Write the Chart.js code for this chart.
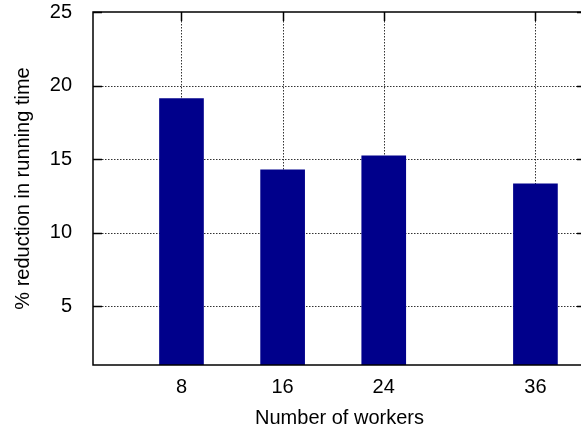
<!DOCTYPE html>
<html>
<head>
<meta charset="utf-8">
<script src="https://cdn.jsdelivr.net/npm/chart.js@4"></script>
<style>
  html, body { margin: 0; padding: 0; overflow: hidden; background: #fff; }
</style>
</head>
<body>
<canvas id="chart" width="600" height="432"></canvas>
<script>
// data
const workers = [8, 16, 24, 36];
const reduction = [19.12, 14.27, 15.22, 13.32];
const xTicks = [8, 16, 24, 36];
const yTicks = [5, 10, 15, 20, 25];

const FONT = "'Liberation Sans', Arial, Helvetica, sans-serif";

// gnuplot style frame: dotted grid, inward ticks, black border
const frame = {
  id: 'frame',
  beforeDatasetsDraw(chart) {
    const { ctx, chartArea: a, scales: { x, y } } = chart;
    ctx.save();
    ctx.strokeStyle = '#333';
    ctx.lineWidth = 1;
    ctx.setLineDash([1.5, 1.5]);
    ctx.beginPath();
    xTicks.forEach(v => {
      const px = Math.round(x.getPixelForValue(v)) + 0.5;
      ctx.moveTo(px, a.top);
      ctx.lineTo(px, a.bottom);
    });
    yTicks.forEach(v => {
      if (v >= y.max) return;
      const py = Math.round(y.getPixelForValue(v)) + 0.5;
      ctx.moveTo(a.left, py);
      ctx.lineTo(a.right, py);
    });
    ctx.stroke();

    // tick marks pointing inwards
    ctx.setLineDash([]);
    ctx.strokeStyle = '#000';
    ctx.lineWidth = 1.5;
    ctx.beginPath();
    const len = 9;
    xTicks.forEach(v => {
      const px = Math.round(x.getPixelForValue(v)) + 0.5;
      ctx.moveTo(px, a.top); ctx.lineTo(px, a.top + len);
      ctx.moveTo(px, a.bottom); ctx.lineTo(px, a.bottom - len);
    });
    yTicks.forEach(v => {
      const py = Math.round(y.getPixelForValue(v)) + 0.5;
      ctx.moveTo(a.left, py); ctx.lineTo(a.left + len, py);
      ctx.moveTo(a.right, py); ctx.lineTo(a.right - len, py);
    });
    ctx.stroke();
    ctx.restore();
  },
  afterDatasetsDraw(chart) {
    const { ctx, chartArea: a } = chart;
    ctx.save();
    ctx.strokeStyle = '#000';
    ctx.lineWidth = 1.5;
    ctx.strokeRect(a.left, a.top, a.right - a.left, a.bottom - a.top);
    ctx.restore();
  }
};

const ctx = document.getElementById('chart').getContext('2d');
new Chart(ctx, {
  type: 'bar',
  data: {
    datasets: [
      {
        data: workers.map((w, i) => ({ x: w, y: reduction[i] })),
        backgroundColor: '#00008b',
        borderWidth: 0,
        barThickness: 44,
      },
    ],
  },
  options: {
    responsive: false,
    animation: false,
    layout: { padding: { top: 12, right: 14, left: 0, bottom: 0 } },
    plugins: {
      legend: { display: false },
      tooltip: { enabled: false },
    },
    scales: {
      x: {
        type: 'linear',
        min: 1,
        max: 40,
        offset: false,
        grid: { display: false, offset: false },
        border: { display: false },
        afterBuildTicks: s => { s.ticks = xTicks.map(v => ({ value: v })); },
        afterFit: s => { s.height = 67; s.paddingLeft = 0; s.paddingRight = 0; },
        ticks: {
          color: '#000',
          padding: 2,
          maxRotation: 0,
          font: { family: FONT, size: 20 },
        },
        title: {
          display: true,
          text: 'Number of workers',
          color: '#000',
          padding: { top: 0, bottom: 2 },
          font: { family: FONT, size: 20 },
        },
      },
      y: {
        min: 1,
        max: 25,
        grid: { display: false },
        border: { display: false },
        afterBuildTicks: s => { s.ticks = yTicks.map(v => ({ value: v })); },
        afterFit: s => { s.width = 93; s.paddingTop = 0; s.paddingBottom = 0; },
        ticks: {
          color: '#000',
          padding: 13,
          font: { family: FONT, size: 20 },
        },
        title: {
          display: true,
          text: '% reduction in running time',
          color: '#000',
          padding: { top: 11, bottom: 0 },
          font: { family: FONT, size: 20 },
        },
      },
    },
  },
  plugins: [frame],
});
</script>
</body>
</html>
